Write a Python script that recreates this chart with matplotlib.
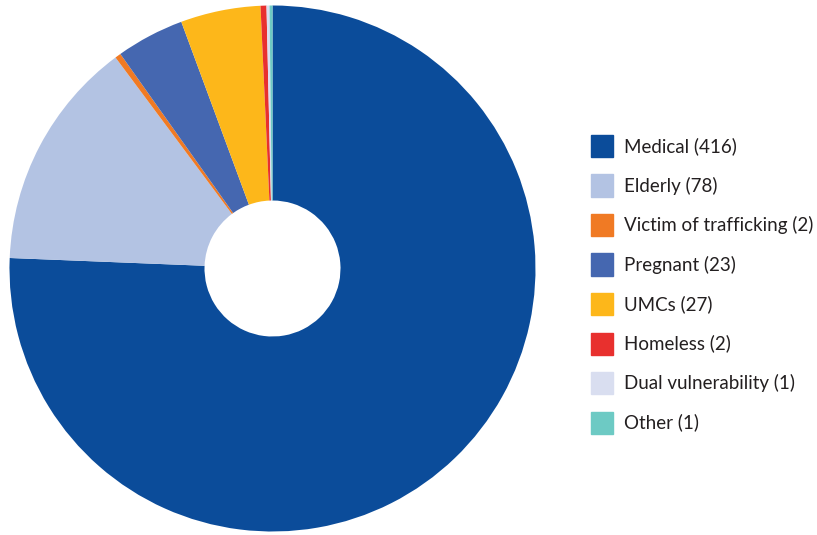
import matplotlib
matplotlib.use("Agg")
import matplotlib.pyplot as plt
from matplotlib.patches import Rectangle

categories = ["Medical", "Elderly", "Victim of trafficking", "Pregnant",
              "UMCs", "Homeless", "Dual vulnerability", "Other"]
counts = [416, 78, 2, 23, 27, 2, 1, 1]
colors = ["#0B4C9A", "#B3C3E3", "#F07A24", "#4567B0",
          "#FDB71A", "#E8302E", "#D9DEF0", "#6DCAC4"]

W, H = 817, 535
fig = plt.figure(figsize=(W / 100, H / 100), dpi=100)

# donut axes
cx, cy, r = 272.5, 268.5, 263
ax = fig.add_axes([(cx - r) / W, 1 - (cy + r) / H, 2 * r / W, 2 * r / H])
ax.pie(counts, colors=colors, startangle=90, counterclock=False,
       radius=1.0, wedgeprops=dict(width=1 - 68 / 263, linewidth=0))
ax.set_xlim(-1, 1)
ax.set_ylim(-1, 1)
ax.set_aspect("equal")
ax.axis("off")

# legend
x0, y_top, step, box = 591, 146, 39.5, 22
for i, (name, n, c) in enumerate(zip(categories, counts, colors)):
    yc = y_top + i * step
    fig.patches.append(Rectangle((x0 / W, 1 - (yc + box / 2) / H), box / W, box / H,
                                 transform=fig.transFigure, color=c))
    fig.text(624 / W, 1 - yc / H, f"{name} ({n})", fontsize=13.5,
             family="Lato", color="#231F20", va="center", ha="left")

fig.savefig("out.png", dpi=100)
